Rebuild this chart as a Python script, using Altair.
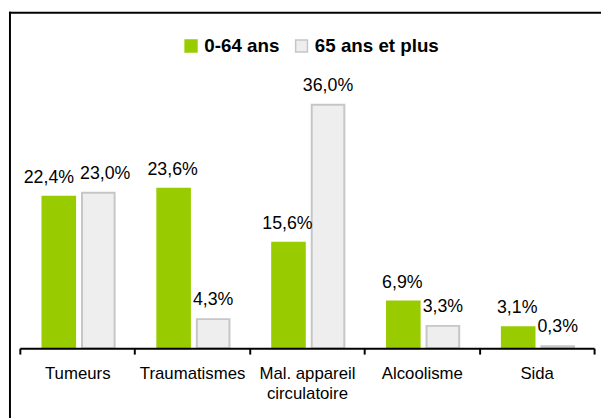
import altair as alt
import pandas as pd

categories = ["Tumeurs", "Traumatismes", "Mal. appareil circulatoire", "Alcoolisme", "Sida"]
series = ["0-64 ans", "65 ans et plus"]
values_0_64 = [22.4, 23.6, 15.6, 6.9, 3.1]
values_65_plus = [23.0, 4.3, 36.0, 3.3, 0.3]

rows = []
for s, vals in zip(series, [values_0_64, values_65_plus]):
    for c, v in zip(categories, vals):
        rows.append({"cat": c, "series": s, "value": v,
                     "label": f"{v:.1f}".replace(".", ",") + "%"})
df = pd.DataFrame(rows)

FONT = "Liberation Sans"
GREEN = "#99cc00"
GRAY_FILL = "#eeeeee"
GRAY_STROKE = "#c6c6c6"

x = alt.X(
    "cat:N", sort=categories,
    scale=alt.Scale(paddingInner=0, paddingOuter=0),
    axis=alt.Axis(
        title=None, labelAngle=0, domainColor="black", domainWidth=2,
        tickColor="black", tickWidth=2, tickSize=6, tickBand="extent",
        labelFont=FONT, labelFontSize=17, labelColor="black", labelPadding=12,
        labelLineHeight=20, labelBaseline="top", zindex=1,
        labelExpr="datum.label == 'Mal. appareil circulatoire' ? ['Mal. appareil', 'circulatoire'] : datum.label",
    ),
)
xo = alt.XOffset("series:N", sort=series,
                 scale=alt.Scale(paddingInner=0.175, paddingOuter=0.54, align=0.53))
y = alt.Y("value:Q", scale=alt.Scale(domain=[0, 40]), axis=None)

legend = alt.Legend(
    title=None, orient="none", legendX=164, legendY=-42, direction="horizontal",
    labelFont=FONT, labelFontSize=19, labelFontWeight="bold", labelColor="black",
    symbolType="square", symbolSize=144, symbolStrokeWidth=1.5,
    columnPadding=12, labelOffset=4, padding=0,
)

base = alt.Chart(df)

bars = base.mark_bar(strokeWidth=2).encode(
    x=x, xOffset=xo, y=y,
    fill=alt.Fill("series:N", sort=series,
                  scale=alt.Scale(domain=series, range=[GREEN, GRAY_FILL]),
                  legend=legend),
    stroke=alt.Stroke("series:N", sort=series,
                      scale=alt.Scale(domain=series, range=[GREEN, GRAY_STROKE]),
                      legend=legend),
)

# labels: when both values of a category are close, the two labels are pushed apart
lab = base.transform_joinaggregate(
    vmin="min(value)", vmax="max(value)", groupby=["cat"]
).transform_calculate(
    close="datum.vmax - datum.vmin < 2 ? 1 : 0"
)


def label_layer(ser, close, dx):
    return lab.transform_filter(
        (alt.datum.series == ser) & (alt.datum.close == close)
    ).mark_text(dy=-14, dx=dx, baseline="alphabetic", fontSize=18, font=FONT,
                color="black").encode(x=x, xOffset=xo, y=y, text="label:N")


labels = [
    label_layer(series[0], 0, -1),
    label_layer(series[0], 1, -10),
    label_layer(series[1], 0, 0),
    label_layer(series[1], 1, 7),
]

one = alt.Chart(pd.DataFrame({"a": [0]}))
frame_top = one.mark_rule(color="black", strokeWidth=2).encode(
    x=alt.value(-11), x2=alt.value(589), y=alt.value(-66)
)
frame_left = one.mark_rule(color="black", strokeWidth=2).encode(
    x=alt.value(-10), y=alt.value(-67), y2=alt.value(350)
)

chart = alt.layer(frame_top, frame_left, bars, *labels).properties(
    width=582, height=274,
    autosize=alt.AutoSizeParams(type="none"),
    padding={"left": 12, "top": 68, "right": 7, "bottom": 68},
    background="white",
).configure_view(strokeWidth=0)

chart.save("out.html", embed_options={"renderer": "svg", "actions": False})
